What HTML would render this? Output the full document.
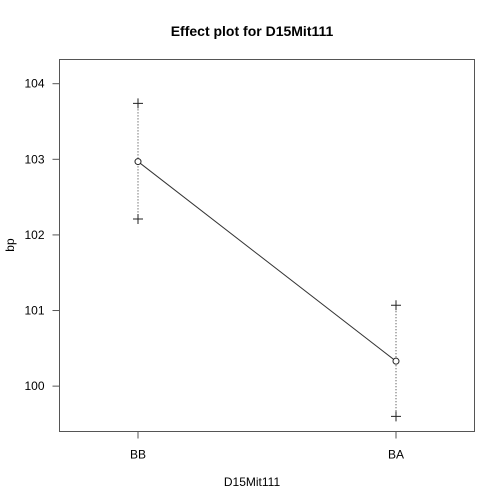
<!DOCTYPE html>
<html><head><meta charset="utf-8"><style>body{margin:0;background:#fff}svg{display:block;font-family:"Liberation Sans",sans-serif}</style></head>
<body>
<svg id="c" width="504" height="504" viewBox="0 0 504 504"></svg>
<script>
const categories = ["BB","BA"];
const fitValues = [102.97, 100.33];
const upperValues = [103.74, 101.07];
const lowerValues = [102.21, 99.60];
const yTicks = [100,101,102,103,104];

const svg = document.getElementById('c');
const NS = 'http://www.w3.org/2000/svg';
const L=59.5,R=474.5,T=59.5,B=431.5;
const yMin=99.40, yMax=104.32;
const y = v => B - (v - yMin)/(yMax - yMin)*(B - T);
const x = i => 138 + i*(396-138)/(categories.length-1);
function el(tag, attrs, name, text){
  const e=document.createElementNS(NS,tag);
  for(const k in attrs) e.setAttribute(k,attrs[k]);
  
  
  if(text!==undefined) e.textContent=text;
  svg.appendChild(e); return e;
}
el('text',{x:252,y:36,'text-anchor':'middle','font-size':14,'font-weight':'bold'},'chart-title','Effect plot for D15Mit111');
el('rect',{x:L,y:T,width:R-L,height:B-T,fill:'none',stroke:'#555','stroke-width':1},'plot-frame');
yTicks.forEach(t=>{
  el('line',{x1:L-7,x2:L,y1:y(t),y2:y(t),stroke:'#555'},'y-tick');
  el('text',{x:L-15,y:y(t)+4,'text-anchor':'end','font-size':12},'y-tick-label',String(t));
});
categories.forEach((c,i)=>{
  el('line',{x1:x(i),x2:x(i),y1:B,y2:B+7,stroke:'#555'},'x-tick');
  el('text',{x:x(i),y:B+27,'text-anchor':'middle','font-size':12},'x-tick-label',c);
});
el('text',{x:252,y:486,'text-anchor':'middle','font-size':12},'x-axis-title','D15Mit111');
el('text',{x:14,y:245,'text-anchor':'middle','font-size':12,transform:'rotate(-90 14 245)'},'y-axis-title','bp');
// line
let d='';
fitValues.forEach((v,i)=>{d+=(i?'L':'M')+x(i)+' '+y(v);});
el('path',{d:d,fill:'none',stroke:'#333','stroke-width':1},'effect-line');
categories.forEach((c,i)=>{
  el('line',{x1:x(i),x2:x(i),y1:y(upperValues[i]),y2:y(lowerValues[i]),stroke:'#333','stroke-dasharray':'1,2'},'ci-bar-'+c);
  [upperValues[i],lowerValues[i]].forEach((v,j)=>{
    el('path',{d:`M${x(i)-5} ${y(v)}h10M${x(i)} ${y(v)-5}v10`,stroke:'#222'},(j?'lower':'upper')+'-ci-'+c);
  });
  el('circle',{cx:x(i),cy:y(fitValues[i]),r:3,fill:'#fff',stroke:'#222'},'point-'+c);
});
</script>
</body></html>
